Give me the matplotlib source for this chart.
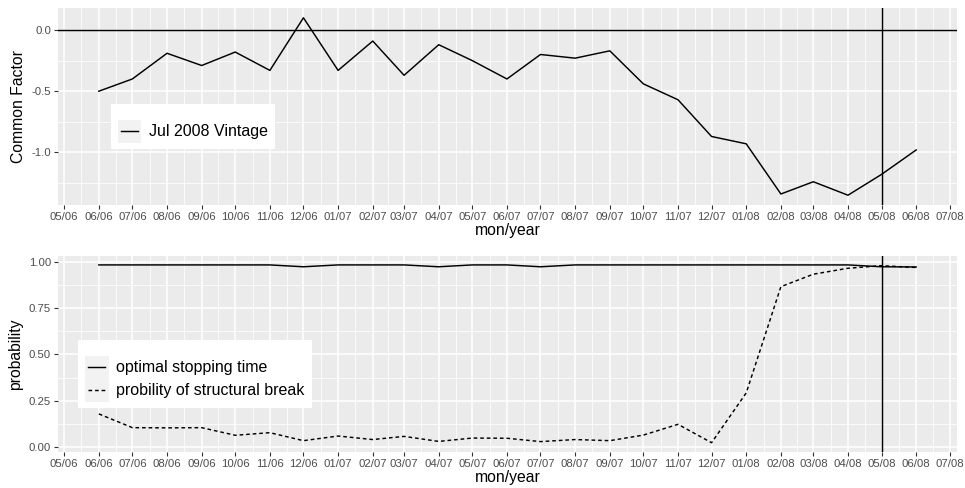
import numpy as np
import pandas as pd
import matplotlib
matplotlib.use('Agg')
import matplotlib.pyplot as plt
import matplotlib.dates as mdates
from matplotlib.legend_handler import HandlerLine2D
from matplotlib.patches import Rectangle

plt.rcParams['font.family'] = ['Liberation Sans', 'DejaVu Sans']

# --- data ---
months = pd.date_range('2006-06-01', '2008-06-01', freq='MS')

common_factor = [-0.50, -0.40, -0.19, -0.29, -0.18, -0.33, 0.10, -0.33, -0.09,
                 -0.37, -0.12, -0.25, -0.40, -0.20, -0.23, -0.17, -0.44, -0.57,
                 -0.87, -0.93, -1.34, -1.24, -1.35, -1.18, -0.98]

stopping_prob = [0.982, 0.982, 0.982, 0.982, 0.982, 0.982, 0.972, 0.982, 0.982,
                 0.982, 0.972, 0.982, 0.982, 0.972, 0.982, 0.982, 0.982, 0.982,
                 0.982, 0.982, 0.982, 0.982, 0.982, 0.972, 0.971]

break_prob = [0.180, 0.106, 0.105, 0.106, 0.065, 0.079, 0.036, 0.061, 0.042,
              0.059, 0.032, 0.050, 0.049, 0.031, 0.042, 0.036, 0.066, 0.124,
              0.025, 0.293, 0.865, 0.932, 0.964, 0.978, 0.968]

vline_date = pd.Timestamp('2008-05-01')
tick_months = pd.date_range('2006-05-01', '2008-07-01', freq='MS')

BG = '#EBEBEB'
TXT = '#4D4D4D'
TITLE_SIZE = 11.3
LEGEND_SIZE = 11.5
TICK_SIZE = 8.2


class KeyHandler(HandlerLine2D):
    """legend key drawn on a light grey square, like ggplot"""
    def create_artists(self, legend, orig_handle, xdescent, ydescent,
                       width, height, fontsize, trans):
        box = Rectangle((-xdescent, -ydescent), width, height,
                        facecolor='#F2F2F2', edgecolor='none', transform=trans)
        arts = super().create_artists(legend, orig_handle, xdescent, ydescent,
                                      width, height, fontsize, trans)
        ymid = height / 2 - ydescent
        arts[0].set_data([width * 0.14 - xdescent, width * 0.86 - xdescent],
                         [ymid, ymid])
        return [box] + arts


def style_axis(ax, yticks, yminor):
    ax.set_facecolor(BG)
    for s in ax.spines.values():
        s.set_visible(False)
    x = mdates.date2num(tick_months)
    ax.set_xticks(x)
    ax.set_xticklabels([d.strftime('%m/%y') for d in tick_months])
    ax.set_xticks((x[:-1] + x[1:]) / 2, minor=True)
    ax.set_yticks(yticks)
    ax.set_yticks(yminor, minor=True)
    ax.grid(which='major', color='white', linewidth=1.1)
    ax.grid(which='minor', color='white', linewidth=0.55)
    ax.set_axisbelow(True)
    ax.tick_params(which='major', length=3, width=0.8, color='#333333',
                   labelsize=TICK_SIZE, labelcolor=TXT, pad=2)
    ax.tick_params(which='minor', length=0)
    lo = mdates.date2num(pd.Timestamp('2006-06-01')) - 36.5
    hi = mdates.date2num(pd.Timestamp('2008-06-01')) + 36.5
    ax.set_xlim(lo, hi)
    ax.set_xlabel('mon/year', fontsize=TITLE_SIZE, labelpad=1)


def white_legend(ax, anchor):
    leg = ax.legend(loc='upper left', bbox_to_anchor=anchor, borderaxespad=0,
                    fontsize=LEGEND_SIZE, frameon=True, fancybox=False,
                    handlelength=1.47, handleheight=1.83, handletextpad=0.5,
                    borderpad=0.42, labelspacing=0,
                    title=' ', title_fontsize=6.5,
                    handler_map={matplotlib.lines.Line2D: KeyHandler()})
    leg.get_frame().set_facecolor('white')
    leg.get_frame().set_edgecolor('none')
    leg.get_frame().set_alpha(1)
    return leg


fig = plt.figure(figsize=(9.65, 4.88), dpi=100)
ax1 = fig.add_axes([58 / 965, 1 - 205 / 488, 899 / 965, 197 / 488])
ax2 = fig.add_axes([58 / 965, 1 - 452 / 488, 899 / 965, 196 / 488])

# --- top panel: common factor ---
xd = mdates.date2num(months)
ax1.plot(xd, common_factor, color='black', linewidth=1.05, label='Jul 2008 Vintage')
ax1.axhline(0, color='black', linewidth=1.05)
ax1.axvline(mdates.date2num(vline_date), color='black', linewidth=1.05)
style_axis(ax1, [0.0, -0.5, -1.0], [-0.25, -0.75, -1.25])
ax1.set_yticklabels(['0.0', '-0.5', '-1.0'])
ax1.set_ylim(-1.43, 0.18)
ax1.set_ylabel('Common Factor', fontsize=TITLE_SIZE, labelpad=4)
white_legend(ax1, (0.059, 0.5127))

# --- bottom panel: probabilities ---
ax2.plot(xd, stopping_prob, color='black', linewidth=1.05, label='optimal stopping time')
ax2.plot(xd, break_prob, color='black', linewidth=1.05, dashes=(2.5, 2.0),
         label='probility of structural break')
ax2.axvline(mdates.date2num(vline_date), color='black', linewidth=1.05)
style_axis(ax2, [0.0, 0.25, 0.5, 0.75, 1.0], [0.125, 0.375, 0.625, 0.875])
ax2.set_yticklabels(['0.00', '0.25', '0.50', '0.75', '1.00'])
ax2.set_ylim(-0.025, 1.03)
ax2.set_ylabel('probability', fontsize=TITLE_SIZE, labelpad=4)
white_legend(ax2, (0.0226, 0.5714))

fig.savefig('out.png', dpi=100)
